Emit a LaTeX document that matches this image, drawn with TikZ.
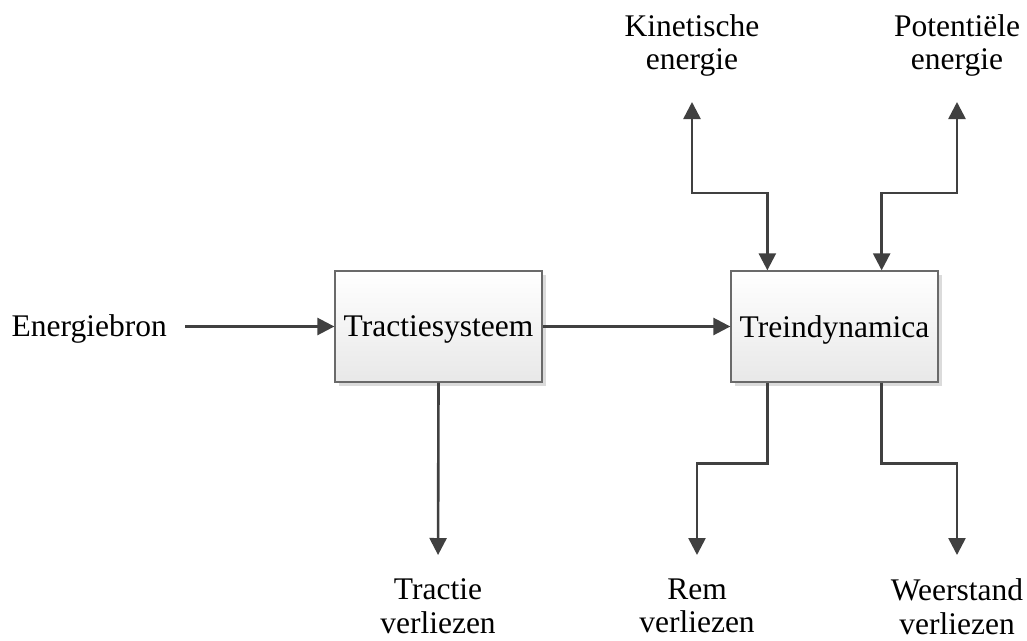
\documentclass[tikz,border=0pt]{standalone}
\usepackage{fontspec}
\setmainfont{Liberation Serif}
\usetikzlibrary{arrows.meta,shadows}
\definecolor{linegray}{HTML}{404040}
\definecolor{boxline}{HTML}{6A6A6A}
\tikzset{
  box/.style={draw=boxline,line width=1.3pt,minimum width=207pt,minimum height=111pt,
    top color=white,bottom color=black!9,inner sep=0pt,text depth=0pt,
    font=\fontsize{31.5}{33.5}\selectfont,
    drop shadow={shadow xshift=4pt,shadow yshift=-4pt,fill=black!14,opacity=1}},
  lbl/.style={align=center,inner xsep=0pt,inner ysep=2pt,font=\fontsize{31.5}{33.5}\selectfont,
    execute at begin node=\strut,execute at end node=\strut},
  flow/.style={draw=linegray,line width=2.6pt,-{Triangle[length=17pt,width=17pt]}},
  dflow/.style={draw=linegray,line width=2.6pt,{Triangle[length=17pt,width=17pt]}-{Triangle[length=17pt,width=17pt]}}
}
\begin{document}
\begin{tikzpicture}[x=1pt,y=-1pt]
\useasboundingbox (0,0) rectangle (1027,640);

\node[box] (trac) at (438.5,326.5) {Tractiesysteem};
\node[box] (dyn) at (834.5,326.5) {Treindynamica};

\node[lbl,anchor=base east,inner xsep=18pt] (src) at (185,336) {Energiebron};
\node[lbl,anchor=south] (kin) at (692,82) {Kinetische\\energie};
\node[lbl,anchor=south] (pot) at (957,82) {Potentiële\\energie};
\node[lbl,anchor=north] (trl) at (438,576.5) {Tractie\\verliezen};
\node[lbl,anchor=north] (rem) at (697,576.5) {Rem\\verliezen};
\node[lbl,anchor=north] (wst) at (957,576.5) {Weerstand\\verliezen};

\coordinate (dynA) at ([xshift=37pt]dyn.north west);
\coordinate (dynB) at ([xshift=-57pt]dyn.north east);
\coordinate (dynC) at ([xshift=37pt]dyn.south west);
\coordinate (dynD) at ([xshift=-57pt]dyn.south east);

\draw[flow] (src.east |- trac.west) -- (trac.west);
\draw[flow] (trac.east) -- (dyn.west);
\draw[flow,shorten >=21.5pt] (trac.south) -- (trl.north);
\draw[dflow,shorten <=20pt] (kin.south) -- ++(0,111) -| (dynA);
\draw[dflow,shorten <=20pt] (pot.south) -- ++(0,111) -| (dynB);
\draw[flow,shorten >=21.5pt] (dynC) -- ++(0,81) -| (rem.north);
\draw[flow,shorten >=21.5pt] (dynD) -- ++(0,81) -| (wst.north);
\end{tikzpicture}
\end{document}
